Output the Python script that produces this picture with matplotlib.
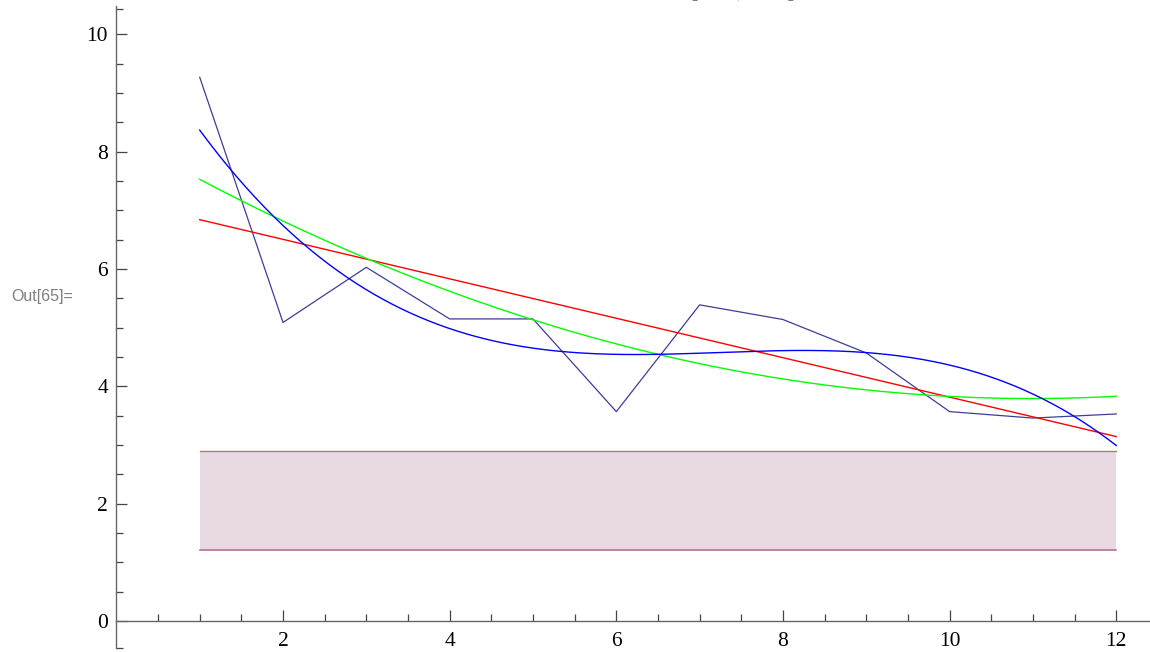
import numpy as np
import matplotlib
matplotlib.use("Agg")
import matplotlib.pyplot as plt
from matplotlib.ticker import FixedLocator

# Observations
x_obs = [1, 2, 3, 4, 5, 6, 7, 8, 9, 10, 11, 12]
y_obs = [9.27, 5.09, 6.03, 5.15, 5.15, 3.57, 5.39, 5.14, 4.57, 3.57, 3.46, 3.53]

# Reference band
band_x = [1, 12]
band_low = 1.21
band_high = 2.90

# Polynomial fit degrees and their colours
fit_degrees = [1, 2, 3]
fit_colors = ["#ff0000", "#00ff00", "#0000ff"]

x_major = [2, 4, 6, 8, 10, 12]
y_major = [0, 2, 4, 6, 8, 10]

plt.rcParams["font.family"] = ["Liberation Serif", "DejaVu Serif"]

fig = plt.figure(figsize=(11.5, 6.52), dpi=100)
ax = fig.add_axes([0.1012, 0.0061, 0.8988, 0.9852])
xlim = (0, 12.405)
ylim = (-0.46, 10.49)
ax.set_xlim(*xlim)
ax.set_ylim(*ylim)

# shaded band
ax.fill_between(band_x, [band_low] * 2, [band_high] * 2, color="#e9d9e3", lw=0, zorder=1)
ax.plot(band_x, [band_high] * 2, color="#9a8a55", lw=1.0, zorder=2)
ax.plot(band_x, [band_low] * 2, color="#b4709c", lw=1.2, zorder=2)

# raw series
ax.plot(x_obs, y_obs, color="#3d3d99", lw=0.9, zorder=3)

# least-squares polynomial fits
xs = np.linspace(min(x_obs), max(x_obs), 400)
for deg, col in zip(fit_degrees, fit_colors):
    coef = np.polyfit(x_obs, y_obs, deg)
    ax.plot(xs, np.polyval(coef, xs), color=col, lw=1.0, zorder=4)

# axes styled with crossing axis lines
for s in ("top", "right"):
    ax.spines[s].set_visible(False)
ax.spines["bottom"].set_position(("data", 0))
ax.spines["left"].set_position(("data", 0))
for s in ("bottom", "left"):
    ax.spines[s].set_color("#666666")
    ax.spines[s].set_linewidth(1.0)

ax.xaxis.set_major_locator(FixedLocator(x_major))
ax.yaxis.set_major_locator(FixedLocator(y_major))
ax.xaxis.set_minor_locator(FixedLocator([v for v in np.arange(0.5, 12.01, 0.5) if v not in x_major]))
ax.yaxis.set_minor_locator(FixedLocator([v for v in np.arange(0.5, 10.01, 0.5) if v not in y_major] + [ylim[0], ylim[1] - 0.05]))

ax.tick_params(which="both", direction="in", color="#444444", width=0.9, labelsize=15.5)
ax.tick_params(which="major", length=8, pad=8)
ax.tick_params(which="minor", length=5)
ax.tick_params(axis="y", pad=6)

# output cell label
fig.text(0.0096, 0.545, "Out[65]=", family=["Liberation Sans", "DejaVu Sans"],
         fontsize=11.5, color="#7f7f7f", va="center", ha="left")

# interval title sitting above the plot area
fig.text(0.646, 1.0052, "[1.21, 2.90]", fontsize=16, ha="center", va="baseline")

fig.savefig("out.png", dpi=100)
